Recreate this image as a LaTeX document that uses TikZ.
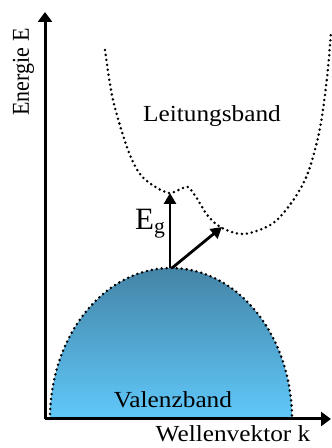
\documentclass[tikz,border=0pt]{standalone}
\usepackage{fontspec}
\setmainfont{Liberation Serif}
\usetikzlibrary{arrows.meta}
\definecolor{vbtop}{RGB}{68,132,166}
\definecolor{vbbot}{RGB}{96,200,250}
\tikzset{
  axisline/.style={line width=3pt,-{Triangle[length=10pt,width=14pt]}},
  bandline/.style={line width=2.8pt,dash pattern=on 0pt off 5pt,line cap=round},
  trans/.style={line width=2.8pt,-{Triangle[length=11pt,width=12pt]}},
  lbl/.style={inner sep=0pt,anchor=base,font=\fontsize{23}{25}\selectfont,xscale=1.1},
}
\begin{document}
\begin{tikzpicture}[x=1pt,y=1pt]
\useasboundingbox (0,0) rectangle (332,448);
% coordinates
\coordinate (O) at (45,29);
\coordinate (ytop) at (45,436);
\coordinate (xend) at (331,29);
\coordinate (vtop) at (170,180);
\coordinate (cmin1) at (170,255);
\coordinate (cmin2) at (222,221);
% valence band
\path[top color=vbtop,bottom color=vbbot] (50,29) arc[start angle=180,end angle=0,x radius=121,y radius=151] -- cycle;
\draw[bandline] (50,29) arc[start angle=180,end angle=0,x radius=121,y radius=151];
% conduction band
\draw[bandline] plot[smooth,tension=0.55] coordinates {(105,398) (113,348) (128,298) (140,274) (154,262) (169,255) (181,259) (188,261) (196,251) (208,232) (222,220) (242,214) (262,219) (278,229) (296,252) (309,278) (320,320) (327,370) (331,416)};
% axes
\draw[axisline] (O) -- (ytop);
\draw[axisline] (O) -- (xend);
% transitions
\draw[trans] (vtop) -- (cmin1);
\draw[trans] ([xshift=2pt]vtop) -- (cmin2);
% labels
\node[lbl] (lb) at (212,326) {Leitungsband};
\node[lbl] (vb) at (173,41) {Valenzband};
\node[lbl] (kx) at (233,6) {Wellenvektor k};
\node[lbl,font=\fontsize{22}{24}\selectfont,xscale=1.0,rotate=90] (ey) at (29,376) {Energie E};
\node[inner sep=0pt,anchor=base west,font=\fontsize{31}{33}\selectfont] (eg) at (135,218) {E\textsubscript{g}};
\end{tikzpicture}
\end{document}
